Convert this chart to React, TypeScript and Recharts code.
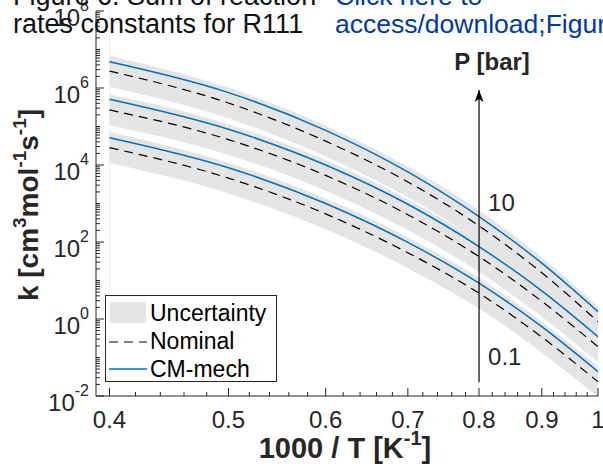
import React from 'react';
import {
  ComposedChart,
  Area,
  Line,
  XAxis,
  YAxis,
  ReferenceLine,
  ReferenceDot,
  Legend,
  Label,
} from 'recharts';

// ---------- data (log10 of k) ----------
const xValues = [0.4, 0.5, 0.6, 0.7, 0.8, 0.9, 1.0];

// P = 10 bar
const cm10 = [6.68, 5.88, 4.9, 3.82, 2.66, 1.45, 0.19];
const nom10 = [6.44, 5.61, 4.62, 3.56, 2.42, 1.2, -0.07];
const band10Low = [6.03, 5.21, 4.22, 3.16, 2.02, 0.8, -0.47];
const band10High = [6.84, 6.01, 5.02, 3.96, 2.82, 1.6, 0.33];

// P = 1 bar
const cm1 = [5.71, 4.93, 4.0, 2.98, 1.88, 0.73, -0.46];
const nom1 = [5.43, 4.66, 3.73, 2.71, 1.62, 0.46, -0.72];
const band1Low = [5.03, 4.26, 3.33, 2.31, 1.22, 0.06, -1.12];
const band1High = [5.84, 5.06, 4.13, 3.11, 2.02, 0.86, -0.32];

// P = 0.1 bar
const cm01 = [4.71, 3.93, 3.0, 1.99, 0.93, -0.2, -1.37];
const nom01 = [4.45, 3.66, 2.73, 1.72, 0.67, -0.47, -1.63];
const band01Low = [4.05, 3.26, 2.33, 1.32, 0.27, -0.87, -2.03];
const band01High = [4.86, 4.06, 3.13, 2.12, 1.07, -0.07, -1.23];

// ---------- ticks & labels ----------
const xMajorTicks = [0.4, 0.5, 0.6, 0.7, 0.8, 0.9, 1];
const xMinorStep = 0.02;
const yMajorExponents = [-2, 0, 2, 4, 6, 8];
const yDecades = [-2, -1, 0, 1, 2, 3, 4, 5, 6, 7];
const legendLabels = ['Uncertainty', 'Nominal', 'CM-mech'];
const pressureHigh = '10';
const pressureLow = '0.1';
const pressureTitle = 'P [bar]';
const arrowX = 0.8;
const arrowBottomExp = -1.64;
const arrowTopExp = 5.95;
const highLabelExp = 3.04;
const lowLabelExp = -0.96;
const pTitleExp = 6.7;
const headerBlack = ['Figure 6. Sum of reaction', 'rates constants for R111'];
const headerBlue = ['Click here to', 'access/download;Figure'];

// ---------- style ----------
const FONT = '"Liberation Sans", Arial, Helvetica, sans-serif';
const AX = '#262626';
const BLUE = '#0072BD';
const BAND = '#e5e5e5';
const TICK_MARGIN = 4;

const pow = (v: number) => Math.pow(10, v);

const data = xValues.map((x, i) => ({
  x,
  band10: [pow(band10Low[i]), pow(band10High[i])],
  band1: [pow(band1Low[i]), pow(band1High[i])],
  band01: [pow(band01Low[i]), pow(band01High[i])],
  nom10: pow(nom10[i]),
  nom1: pow(nom1[i]),
  nom01: pow(nom01[i]),
  cm10: pow(cm10[i]),
  cm1: pow(cm1[i]),
  cm01: pow(cm01[i]),
}));

const isXMajor = (v: number) => xMajorTicks.some((t) => Math.abs(t - v) < 1e-6);
const xTicks: number[] = [];
for (let k = 0; 0.4 + k * xMinorStep <= 1.0001; k++) {
  xTicks.push(Math.round((0.4 + k * xMinorStep) * 100) / 100);
}

const yTicks: number[] = [];
yDecades.forEach((n) => {
  for (let m = 1; m <= 9; m++) yTicks.push(m * pow(n));
});
yTicks.push(pow(8));
const yMajorExp = (v: number) => {
  const e = Math.log10(v);
  const r = Math.round(e);
  if (Math.abs(e - r) < 1e-6 && yMajorExponents.includes(r)) return r;
  return null;
};

const XTick = (props: any) => {
  const { x, y, payload } = props;
  const v = payload.value;
  const major = isXMajor(v);
  const axisY = y - TICK_MARGIN;
  return (
    <g>
      <line x1={x} x2={x} y1={axisY} y2={axisY - (major ? 8 : 4)} stroke={AX} strokeWidth={1} />
      {major && (
        <text x={x} y={axisY + 32} textAnchor="middle" fontSize={24} fontFamily={FONT} fill={AX}>
          {String(v)}
        </text>
      )}
    </g>
  );
};

const YTick = (props: any) => {
  const { x, y, payload } = props;
  const e = yMajorExp(payload.value);
  const axisX = x + TICK_MARGIN;
  return (
    <g>
      <line x1={axisX} x2={axisX + (e !== null ? 8 : 4)} y1={y} y2={y} stroke={AX} strokeWidth={1} />
      {e !== null && (
        <text x={axisX - 7} y={y + 15} textAnchor="end" fontFamily={FONT} fill={AX}>
          <tspan fontSize={24}>10</tspan>
          <tspan fontSize={16} dy={-15}>
            {String(e)}
          </tspan>
        </text>
      )}
    </g>
  );
};

const XTitle = () => (
  <text x={345} y={458} textAnchor="middle" fontFamily={FONT} fontWeight="bold" fill={AX}>
    <tspan fontSize={29}>1000 / T [K</tspan>
    <tspan fontSize={20} dy={-13}>-1</tspan>
    <tspan fontSize={29} dy={13}>]</tspan>
  </text>
);

const YTitle = () => (
  <text
    transform="translate(38, 205) rotate(-90)"
    x={0}
    y={0}
    textAnchor="middle"
    fontFamily={FONT}
    fontWeight="bold"
    fill={AX}
  >
    <tspan fontSize={28}>k [cm</tspan>
    <tspan fontSize={19} dy={-12}>3</tspan>
    <tspan fontSize={28} dy={12}>mol</tspan>
    <tspan fontSize={19} dy={-12}>-1</tspan>
    <tspan fontSize={28} dy={12}>s</tspan>
    <tspan fontSize={19} dy={-12}>-1</tspan>
    <tspan fontSize={28} dy={12}>]</tspan>
  </text>
);

const LegendBox = () => (
  <div
    style={{
      width: 172,
      height: 87,
      boxSizing: 'border-box',
      border: `1px solid ${AX}`,
      background: '#fff',
    }}
  >
    <svg width={170} height={85} style={{ display: 'block' }}>
      <rect x={4} y={6} width={36} height={21} fill={BAND} />
      <line x1={3} x2={41} y1={46} y2={46} stroke="#000" strokeWidth={1.2} strokeDasharray="9 6" />
      <line x1={3} x2={41} y1={73} y2={73} stroke={BLUE} strokeWidth={1.5} />
      {legendLabels.map((l, i) => (
        <text key={l} x={44} y={25 + i * 28} fontSize={23} fontFamily={FONT} fill="#000">
          {l}
        </text>
      ))}
    </svg>
  </div>
);

const ArrowHead = (p: any) => {
  const { cx, cy } = p;
  return <path d={`M${cx},${cy} L${cx - 4.5},${cy + 12} L${cx},${cy + 9} L${cx + 4.5},${cy + 12} Z`} fill="#000" />;
};

const makeText = (txt: string, dx: number, dy: number, size: number, bold: boolean, anchor: string) => (p: any) => (
  <text
    x={p.cx + dx}
    y={p.cy + dy}
    fontSize={size}
    fontFamily={FONT}
    fontWeight={bold ? 'bold' : 'normal'}
    textAnchor={anchor as any}
    fill={AX}
  >
    {txt}
  </text>
);

export default function App() {
  return (
    <div style={{ position: 'absolute', left: 0, top: 0, width: 603, height: 473, background: '#fff' }}>
      <ComposedChart
        width={603}
        height={473}
        data={data}
        margin={{ top: 11, right: 5, left: 0, bottom: 0 }}
        style={{ fontFamily: FONT }}
      >
        <XAxis
          dataKey="x"
          type="number"
          scale="log"
          domain={[0.39, 1]}
          allowDataOverflow
          ticks={xTicks}
          interval={0}
          tickSize={0}
          tickMargin={TICK_MARGIN}
          tick={<XTick />}
          tickLine={false}
          axisLine={{ stroke: AX, strokeWidth: 1 }}
          height={77}
        >
          <Label content={<XTitle />} />
        </XAxis>
        <YAxis
          type="number"
          scale="log"
          domain={[0.01, 1e8]}
          allowDataOverflow
          ticks={yTicks}
          interval={0}
          tickSize={0}
          tickMargin={TICK_MARGIN}
          tick={<YTick />}
          tickLine={false}
          axisLine={{ stroke: AX, strokeWidth: 1 }}
          width={96}
        >
          <Label content={<YTitle />} />
        </YAxis>

        <ReferenceLine x={0.4} stroke="#f0f0f0" strokeWidth={1} />

        <Area dataKey="band10" type="monotone" stroke="none" fill={BAND} fillOpacity={1} isAnimationActive={false} legendType="none" />
        <Area dataKey="band1" type="monotone" stroke="none" fill={BAND} fillOpacity={1} isAnimationActive={false} legendType="none" />
        <Area dataKey="band01" type="monotone" stroke="none" fill={BAND} fillOpacity={1} isAnimationActive={false} legendType="none" />

        <Line dataKey="nom10" type="monotone" stroke="#000" strokeWidth={1.2} strokeDasharray="9 6" dot={false} isAnimationActive={false} />
        <Line dataKey="nom1" type="monotone" stroke="#000" strokeWidth={1.2} strokeDasharray="9 6" dot={false} isAnimationActive={false} />
        <Line dataKey="nom01" type="monotone" stroke="#000" strokeWidth={1.2} strokeDasharray="9 6" dot={false} isAnimationActive={false} />

        <Line dataKey="cm10" type="monotone" stroke={BLUE} strokeWidth={1.5} dot={false} isAnimationActive={false} />
        <Line dataKey="cm1" type="monotone" stroke={BLUE} strokeWidth={1.5} dot={false} isAnimationActive={false} />
        <Line dataKey="cm01" type="monotone" stroke={BLUE} strokeWidth={1.5} dot={false} isAnimationActive={false} />

        <ReferenceLine
          segment={[
            { x: arrowX, y: pow(arrowBottomExp) },
            { x: arrowX, y: pow(arrowTopExp) },
          ]}
          stroke="#000"
          strokeWidth={1.2}
        />
        <ReferenceDot x={arrowX} y={pow(arrowTopExp)} r={0} shape={ArrowHead} />
        <ReferenceDot x={arrowX} y={pow(highLabelExp)} r={0} shape={makeText(pressureHigh, 9, 9, 24, false, 'start')} />
        <ReferenceDot x={arrowX} y={pow(lowLabelExp)} r={0} shape={makeText(pressureLow, 9, 9, 24, false, 'start')} />
        <ReferenceDot x={arrowX} y={pow(pTitleExp)} r={0} shape={makeText(pressureTitle, 13, 9, 24, true, 'middle')} />

        <Legend
          layout="horizontal"
          verticalAlign="middle"
          align="center"
          content={<LegendBox />}
          wrapperStyle={{ left: 105, top: 295, width: 172, height: 87 }}
        />
      </ComposedChart>
      <svg
        width={603}
        height={473}
        style={{ position: 'absolute', left: 0, top: 0, pointerEvents: 'none' }}
      >
        <text x={13} y={5} fontSize={27} fontFamily={FONT} fill="#111">
          {headerBlack[0]}
        </text>
        <text x={13} y={33} fontSize={27} fontFamily={FONT} fill="#111">
          {headerBlack[1]}
        </text>
        <text x={335} y={5} fontSize={26.5} fontFamily={FONT} fill="#0039a6">
          {headerBlue[0]}
        </text>
        <text x={335} y={33} fontSize={26.5} fontFamily={FONT} fill="#0039a6">
          {headerBlue[1]}
        </text>
      </svg>
    </div>
  );
}
